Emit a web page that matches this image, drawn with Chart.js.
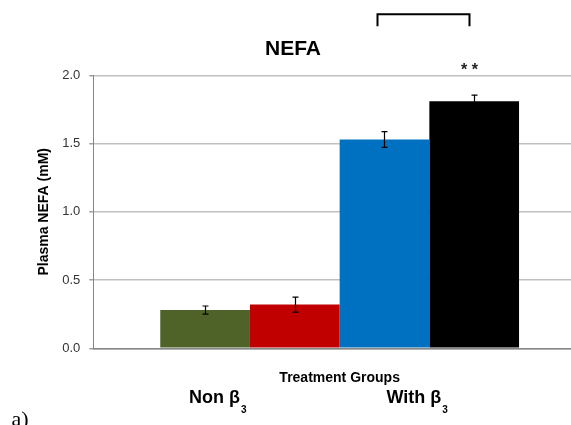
<!DOCTYPE html>
<html>
<head>
<meta charset="utf-8">
<script src="https://cdn.jsdelivr.net/npm/chart.js@4.4.1/dist/chart.umd.min.js"></script>
<style>
  html, body { margin: 0; padding: 0; background: #fff; overflow: hidden; }
  #wrap { width: 571px; height: 425px; overflow: hidden; }
  canvas { display: block; }
</style>
</head>
<body>
<div id="wrap"><canvas id="nefaChart" width="636" height="425"></canvas></div>
<script>
// Data
const categories = [""];
const seriesNames = ["Non β3 – group 1", "Non β3 – group 2", "With β3 – group 1", "With β3 – group 2"];
const nefaMeans = [0.28, 0.32, 1.53, 1.81];
const nefaErrors = [0.03, 0.055, 0.058, 0.045];
const yTicks = [0, 0.5, 1.0, 1.5, 2.0];
const groupLabels = ["Non β", "With β"];
const groupSubscripts = ["3", "3"];
const seriesColors = ["#4F6228", "#C00000", "#0070C0", "#000000"];

// significance bracket between the two "With" bars, in y-axis units
const bracketTop = 2.447;
const bracketBottom = 2.359;
const starsLevel = 2.0;

const SANS = '"Liberation Sans", Arial, sans-serif';

const errorBars = {
  id: "errorBars",
  afterDatasetsDraw(chart) {
    const { ctx } = chart;
    const y = chart.scales.y;
    ctx.save();
    ctx.strokeStyle = "#000";
    ctx.lineWidth = 1.2;
    chart.data.datasets.forEach((ds, i) => {
      const x = Math.round(chart.getDatasetMeta(i).data[0].x) + 0.5;
      const hi = y.getPixelForValue(nefaMeans[i] + nefaErrors[i]);
      const lo = y.getPixelForValue(nefaMeans[i] - nefaErrors[i]);
      ctx.beginPath();
      ctx.moveTo(x, hi); ctx.lineTo(x, lo);
      ctx.moveTo(x - 3, hi); ctx.lineTo(x + 3, hi);
      ctx.moveTo(x - 3, lo); ctx.lineTo(x + 3, lo);
      ctx.stroke();
    });
    ctx.restore();
  }
};

const extras = {
  id: "extras",
  afterDraw(chart) {
    const { ctx } = chart;
    const y = chart.scales.y;
    const bar = i => chart.getDatasetMeta(i).data[0];

    // bracket
    const x1 = bar(2).x - 7, x2 = bar(3).x - 4.7;
    const yt = y.getPixelForValue(bracketTop), yb = y.getPixelForValue(bracketBottom);
    ctx.save();
    ctx.strokeStyle = "#000";
    ctx.lineWidth = 2;
    ctx.beginPath();
    ctx.moveTo(x1, yb); ctx.lineTo(x1, yt); ctx.lineTo(x2, yt); ctx.lineTo(x2, yb);
    ctx.stroke();

    // stars
    ctx.fillStyle = "#222";
    ctx.font = "bold 16px " + SANS;
    ctx.textAlign = "center";
    ctx.textBaseline = "alphabetic";
    ctx.fillText("* *", x2, y.getPixelForValue(starsLevel));

    // group labels under the axis
    const starts = [bar(0).x - 16, bar(2).x + 2];
    ctx.textAlign = "left";
    ctx.fillStyle = "#000";
    groupLabels.forEach((t, i) => {
      ctx.font = "bold 18px " + SANS;
      ctx.fillText(t, starts[i], 403.3);
      const w = ctx.measureText(t).width;
      ctx.font = "bold 10px " + SANS;
      ctx.fillText(groupSubscripts[i], starts[i] + w + 1, 413);
    });

    // panel letter
    ctx.font = '22px "Liberation Serif", "Times New Roman", serif';
    ctx.fillText("a)", 11.5, 426);
    ctx.restore();
  }
};

new Chart(document.getElementById("nefaChart"), {
  type: "bar",
  data: {
    labels: categories,
    datasets: seriesNames.map((name, i) => ({
      label: name,
      data: [nefaMeans[i]],
      backgroundColor: seriesColors[i],
      borderWidth: 0,
      barPercentage: 1,
      categoryPercentage: 0.7282
    }))
  },
  options: {
    responsive: false,
    devicePixelRatio: 1,
    animation: false,
    layout: { padding: { left: 0, right: 50, top: 0, bottom: 38.1 } },
    plugins: {
      legend: { display: false },
      tooltip: { enabled: false },
      title: {
        display: true,
        text: "NEFA",
        color: "#000",
        font: { family: SANS, size: 21, weight: "bold" },
        padding: { top: 36.7, bottom: 13.4 }
      }
    },
    scales: {
      x: {
        grid: { display: false, drawTicks: false },
        border: { display: true, color: "#868686", width: 1.5 },
        ticks: { display: false },
        title: {
          display: true,
          text: "Treatment Groups",
          color: "#000",
          font: { family: SANS, size: 14, weight: "bold" },
          padding: { top: 21.8, bottom: 0 }
        }
      },
      y: {
        min: 0,
        max: 2,
        afterBuildTicks: s => { s.ticks = yTicks.map(v => ({ value: v })); },
        afterFit: s => { s.width = 93.3; },
        grid: { color: "#c0c0c0", lineWidth: 1.5, tickLength: 4, tickColor: "#a0a0a0" },
        border: { display: true, color: "#868686", width: 1 },
        ticks: {
          padding: 9,
          color: "#333",
          font: { family: SANS, size: 13 },
          callback: v => Number(v).toFixed(1)
        },
        title: {
          display: true,
          text: "Plasma NEFA (mM)",
          color: "#000",
          font: { family: SANS, size: 14, weight: "bold" },
          padding: { top: 35.6, bottom: 0 }
        }
      }
    }
  },
  plugins: [errorBars, extras]
});
</script>
</body>
</html>
